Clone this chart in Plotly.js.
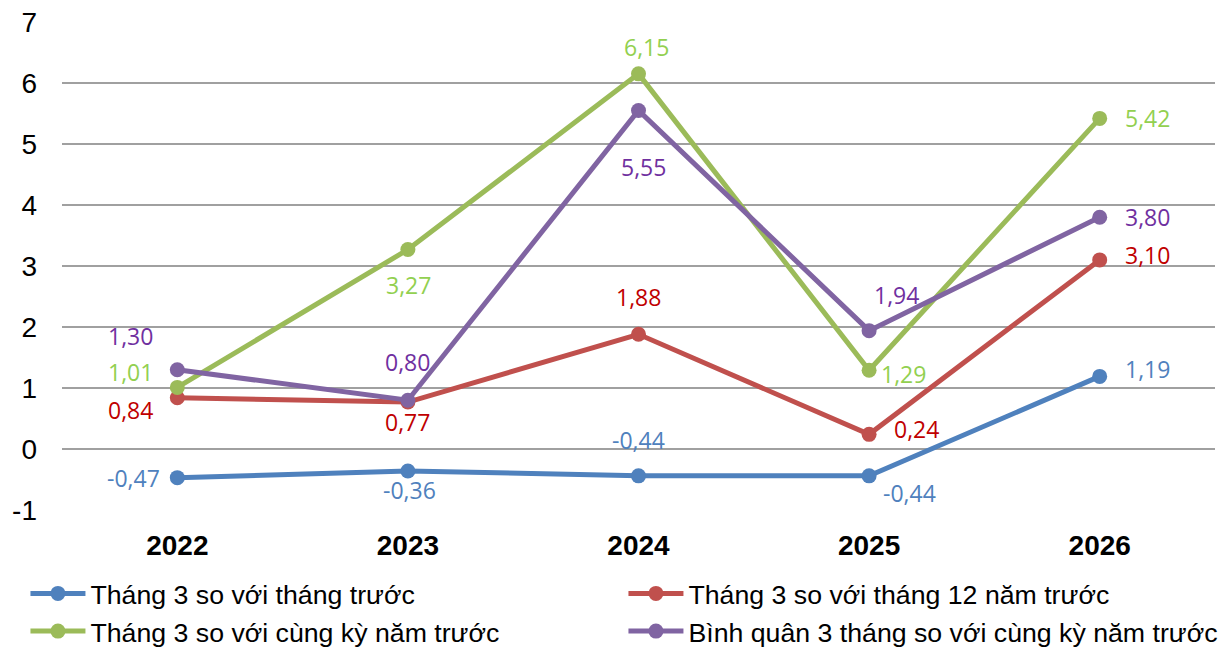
<!DOCTYPE html>
<html>
<head>
<meta charset="utf-8">
<script src="https://cdn.plot.ly/plotly-3.0.1.min.js"></script>
<style>html,body{margin:0;padding:0;background:#fff;}#chart{width:1232px;height:652px;}</style>
</head>
<body>
<div id="chart"></div>
<script>
// ---- data ----
var years = ['2022', '2023', '2024', '2025', '2026'];
var seriesNames = [
  'Tháng 3 so với tháng trước',
  'Tháng 3 so với tháng 12 năm trước',
  'Tháng 3 so với cùng kỳ năm trước',
  'Bình quân 3 tháng so với cùng kỳ năm trước'
];
var vsPrevMonth = [-0.47, -0.36, -0.44, -0.44, 1.19];
var vsDecPrevYear = [0.84, 0.77, 1.88, 0.24, 3.10];
var vsSamePeriod = [1.01, 3.27, 6.15, 1.29, 5.42];
var avg3Months = [1.30, 0.80, 5.55, 1.94, 3.80];
var yTicks = [-1, 0, 1, 2, 3, 4, 5, 6, 7];

// ---- styles ----
var lineColors = ['#4F81BD', '#C0504D', '#9BBB59', '#8064A2'];
var labelColors = ['#4F81BD', '#C00000', '#92D050', '#7030A0'];
// label pixel offsets [dx, dy] (dy positive = downward)
var labelOffsets = [
  [[-44, 0], [2, 19], [0, -36], [40, 17], [48, -7]],
  [[-47, 12], [0, 20], [0, -37], [47, -5], [48, -5]],
  [[-47, -15], [1, 35], [8, -27], [34, 4], [48, 0]],
  [[-47, -34], [0, -38], [5, 57], [27, -36], [48, 0]]
];

var allSeries = [vsPrevMonth, vsDecPrevYear, vsSamePeriod, avg3Months];
var traces = [];
var annotations = [];
allSeries.forEach(function (vals, i) {
  traces.push({
    type: 'scatter',
    mode: 'lines+markers',
    x: years,
    y: vals,
    name: seriesNames[i],
    line: {color: lineColors[i], width: 5},
    marker: {color: lineColors[i], size: 15},
    hoverinfo: 'skip'
  });
  vals.forEach(function (v, j) {
    annotations.push({
      x: j, y: v, xref: 'x', yref: 'y',
      text: v.toFixed(2).replace('.', ','),
      showarrow: false,
      xshift: labelOffsets[i][j][0],
      yshift: -labelOffsets[i][j][1],
      font: {family: 'Open Sans', size: 23, color: labelColors[i]}
    });
  });
});

var layout = {
  width: 1232, height: 652,
  margin: {l: 62, r: 17, t: 22, b: 142, autoexpand: false},
  paper_bgcolor: '#fff', plot_bgcolor: '#fff',
  showlegend: true,
  xaxis: {
    type: 'category', range: [-0.5, 4.5],
    showgrid: false, zeroline: false, showline: false,
    ticks: '', ticklabelstandoff: 16,
    tickfont: {family: 'Liberation Sans', size: 28, color: '#000', weight: 'bold'}
  },
  yaxis: {
    range: [-1, 7], tickvals: yTicks,
    ticktext: yTicks.map(String),
    showgrid: true, gridcolor: '#A0A0A0', gridwidth: 1.6,
    zeroline: false, showline: false, ticks: '',
    ticklabelstandoff: 24,
    tickfont: {family: 'Liberation Sans', size: 28, color: '#000'}
  },
  legend: {
    orientation: 'h', x: -0.0317, xanchor: 'left', y: -0.122, yanchor: 'top',
    itemwidth: 55,
    entrywidth: 528, entrywidthmode: 'pixels',
    font: {family: 'Liberation Sans', size: 26.7, color: '#000'},
    bgcolor: 'rgba(0,0,0,0)'
  },
  annotations: annotations
};

Plotly.newPlot('chart', traces, layout, {staticPlot: true, displayModeBar: false});
</script>
</body>
</html>
